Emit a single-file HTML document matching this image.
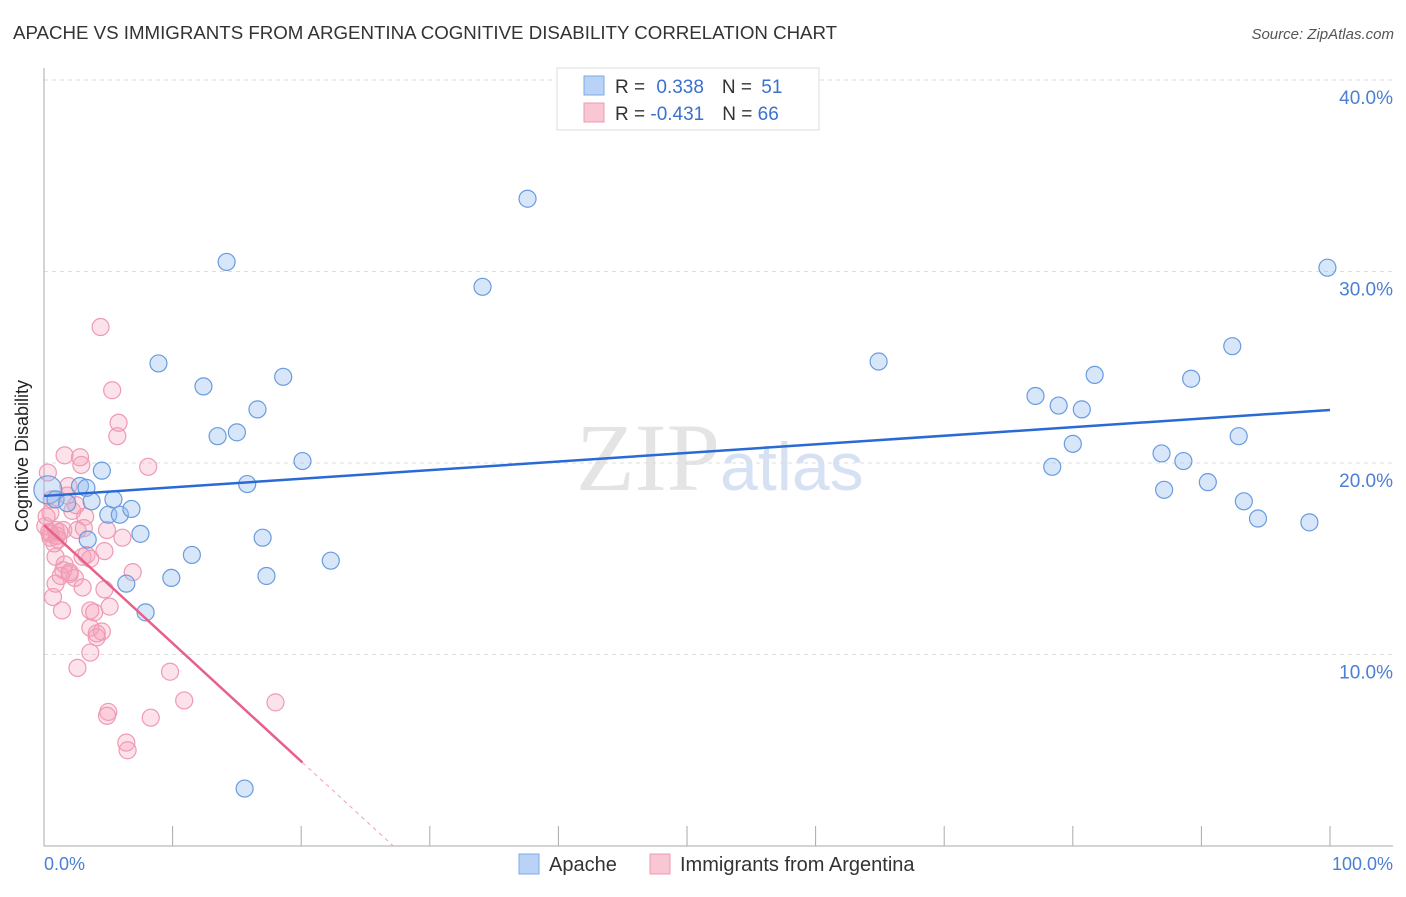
<!DOCTYPE html>
<html><head><meta charset="utf-8"><style>
body{margin:0;background:#fff;font-family:"Liberation Sans",sans-serif;}
</style></head><body>
<svg id="c" width="1406" height="892" xmlns="http://www.w3.org/2000/svg">
<text x="13" y="39" font-size="18.7" fill="#333">APACHE VS IMMIGRANTS FROM ARGENTINA COGNITIVE DISABILITY CORRELATION CHART</text>
<text x="1394" y="39" font-size="15" fill="#555" font-style="italic" text-anchor="end">Source: ZipAtlas.com</text>
<text x="720" y="490" font-size="96" fill="#e4e4e4" text-anchor="end" font-family="Liberation Serif,serif">ZIP</text>
<text x="720" y="490" font-size="68" fill="#d6e2f3">atlas</text>
<g id="grid"></g>
<line x1="44" y1="68" x2="44" y2="846" stroke="#aaa"/>
<line x1="44" y1="846" x2="1393" y2="846" stroke="#aaa"/>
<text x="28" y="456" font-size="18" fill="#222" text-anchor="middle" transform="rotate(-90 28 456)">Cognitive Disability</text>
<text x="44" y="870" font-size="18" fill="#4a7fd4">0.0%</text>
<text x="1393" y="870" font-size="18" fill="#4a7fd4" text-anchor="end">100.0%</text>
<g id="pts"></g>
<g>
<rect x="557" y="68" width="262" height="62" fill="#fff" stroke="#ddd"/>
<rect x="584" y="76" width="20" height="19" fill="#b8d3f5" stroke="#7da8e6"/>
<rect x="584" y="103" width="20" height="19" fill="#f9c6d4" stroke="#ec9ab2"/>
<text x="615" y="93" font-size="19" fill="#333">R = <tspan fill="#3a70d0" dx="6">0.338</tspan><tspan dx="18" fill="#333">N = </tspan><tspan fill="#3a70d0" dx="4">51</tspan></text>
<text x="615" y="120" font-size="19" fill="#333">R = <tspan fill="#3a70d0">-0.431</tspan><tspan dx="18" fill="#333">N = </tspan><tspan fill="#3a70d0">66</tspan></text>
</g>
<g>
<rect x="519" y="854" width="20" height="20" fill="#b8d3f5" stroke="#7da8e6"/>
<text x="549" y="871" font-size="20" fill="#333">Apache</text>
<rect x="650" y="854" width="20" height="20" fill="#f9c6d4" stroke="#ec9ab2"/>
<text x="680" y="871" font-size="20" fill="#333">Immigrants from Argentina</text>
</g>
</svg>
<script>
const yTicks=[10,20,30,40];
const xTickCount=10;
const blueX=[0.3,0.9,1.8,2.8,3.7,4.5,5.0,5.4,5.9,6.8,7.5,6.4,7.9,8.9,9.9,11.5,12.4,13.5,14.2,15.0,15.8,16.6,17.0,17.3,18.6,20.1,22.3,15.6,34.1,37.6,64.9,77.1,78.4,78.9,80.0,80.7,81.7,86.9,87.1,88.6,89.2,90.5,92.4,92.9,93.3,94.4,98.4,99.8,3.4,3.3];
const blueY=[18.6,18.1,17.9,18.8,18.0,19.6,17.3,18.1,17.3,17.6,16.3,13.7,12.2,25.2,14.0,15.2,24.0,21.4,30.5,21.6,18.9,22.8,16.1,14.1,24.5,20.1,14.9,3.0,29.2,33.8,25.3,23.5,19.8,23.0,21.0,22.8,24.6,20.5,18.6,20.1,24.4,19.0,26.1,21.4,18.0,17.1,16.9,30.2,16.0,18.7];
const pinkX=[4.4,5.3,5.8,5.7,1.6,2.8,2.9,8.1,1.9,0.6,0.5,0.9,0.5,1.5,2.6,3.2,4.9,6.1,0.9,3.0,4.7,3.3,1.5,2.0,2.4,6.9,0.9,3.0,4.7,1.4,3.6,5.1,3.9,3.6,4.1,4.5,4.1,3.6,2.6,9.8,10.9,18.0,5.0,4.9,8.3,6.4,6.5,0.3,0.1,1.1,0.5,1.6,3.6,2.2,1.0,0.8,1.3,2.0,2.5,3.1,0.2,0.4,1.8,1.2,0.7];
const pinkY=[27.1,23.8,22.1,21.4,20.4,20.3,19.9,19.8,18.8,18.1,17.4,16.5,16.1,16.5,16.5,17.2,16.5,16.1,15.1,15.1,15.4,15.2,14.4,14.2,14.0,14.3,13.7,13.5,13.4,12.3,12.3,12.5,12.2,11.4,10.9,11.2,11.1,10.1,9.3,9.1,7.6,7.5,7.0,6.8,6.7,5.4,5.0,19.5,16.7,16.0,16.3,14.7,15.0,17.5,16.2,15.8,14.1,14.3,17.8,16.6,17.2,16.4,18.3,16.4,13.0];
const blueLine=[18.28,22.77];
const pinkLine=[16.76,-0.617];
const X=v=>44+v*12.86, Y=v=>846-v*19.15;
const NS='http://www.w3.org/2000/svg';
const grid=document.getElementById('grid'), pts=document.getElementById('pts');
function mk(t,a,p){const e=document.createElementNS(NS,t);for(const k in a)e.setAttribute(k,a[k]);p.appendChild(e);return e;}
yTicks.forEach(v=>{
 const l=mk('line',{x1:44,x2:1393,y1:Y(v),y2:Y(v),stroke:'#ddd','stroke-dasharray':'4,4'},grid);
 
 
 const t=mk('text',{x:1393,y:Y(v)+24,'font-size':19,fill:'#4a7fd4','text-anchor':'end'},grid);
 t.textContent=v.toFixed(1)+'%';
 
 
});
for(let i=0;i<=xTickCount;i++){
 const l=mk('line',{x1:X(i*10),x2:X(i*10),y1:826,y2:846,stroke:'#aaa'},grid);
 
 
}
pinkX.forEach((x,i)=>{
 const c=mk('circle',{cx:X(x),cy:Y(pinkY[i]),r:8.5,fill:'rgba(244,160,185,0.3)',stroke:'#ef9ab3','stroke-width':1.2},pts);
 
 
});
blueX.forEach((x,i)=>{
 const c=mk('circle',{cx:X(x),cy:Y(blueY[i]),r:i==0?14:8.5,fill:'rgba(150,190,240,0.38)',stroke:'#6a9be0','stroke-width':1.2},pts);
 
 
});
const bl=mk('line',{x1:X(0),y1:Y(blueLine[0]),x2:X(100),y2:Y(blueLine[1]),stroke:'#2a6ad4','stroke-width':2.5},pts);


const xe=20.1, x0=-pinkLine[0]/pinkLine[1];
const pl=mk('line',{x1:X(0),y1:Y(pinkLine[0]),x2:X(xe),y2:Y(pinkLine[0]+pinkLine[1]*xe),stroke:'#e8608a','stroke-width':2.5},pts);


const pd=mk('line',{x1:X(xe),y1:Y(pinkLine[0]+pinkLine[1]*xe),x2:X(x0),y2:Y(0),stroke:'#f0a0b8','stroke-width':1,'stroke-dasharray':'4,4'},pts);


</script>
</body></html>
